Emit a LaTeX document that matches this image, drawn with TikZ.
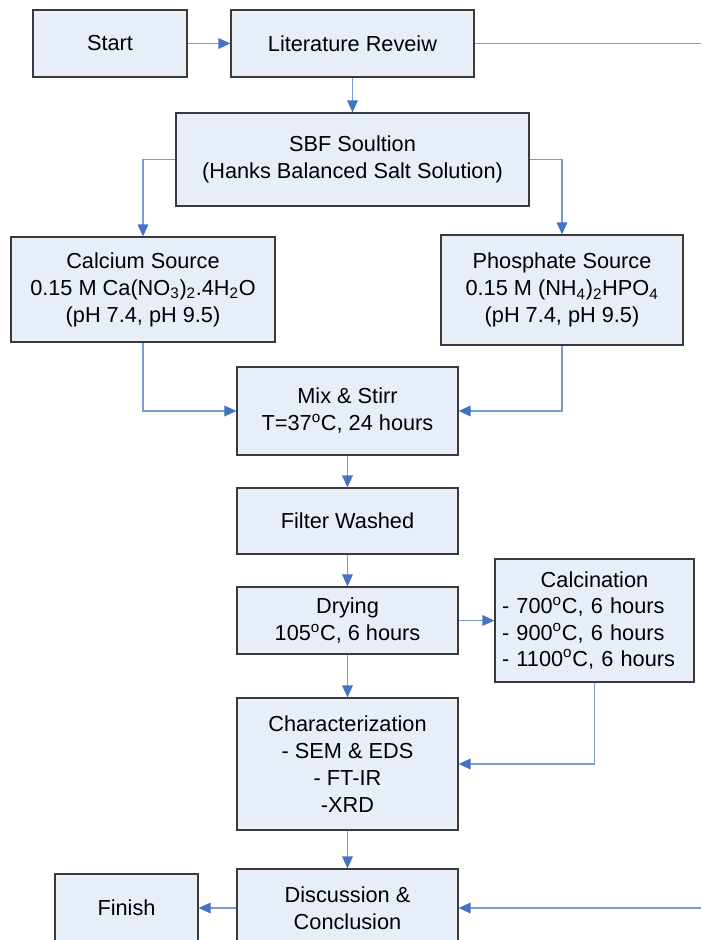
\documentclass[tikz,border=0pt]{standalone}
\usepackage{fontspec}
\setmainfont{Liberation Sans}
\usetikzlibrary{arrows.meta}
\definecolor{boxfill}{HTML}{E8EEF8}
\definecolor{boxline}{HTML}{3A3A3A}
\definecolor{lineblue}{HTML}{7A9CD6}
\definecolor{headblue}{HTML}{4472C4}
\tikzset{
  procbox/.style={draw=boxline, line width=0.9pt, fill=boxfill, align=center,
    inner sep=0pt, font=\fontsize{16.3pt}{20.25pt}\selectfont},
  flow/.style={draw=lineblue, line width=0.9pt,
    -{Triangle[length=9pt,width=8pt,color=headblue,fill=headblue]}},
  plainflow/.style={draw=lineblue, line width=0.9pt}
}
\begin{document}
\begin{tikzpicture}[x=0.75pt,y=-0.75pt]
\useasboundingbox (0,0) rectangle (701,940);
\node[procbox, minimum width=154*0.75pt, minimum height=67*0.75pt] (start) at (110,43.5) {Start};
\node[procbox, minimum width=243*0.75pt, minimum height=67*0.75pt] (lit) at (352.5,43.5) {Literature Reveiw};
\node[procbox, minimum width=353*0.75pt, minimum height=93*0.75pt] (sbf) at (352.5,159.5) {SBF Soultion\\(Hanks Balanced Salt Solution)};
\node[procbox, minimum width=264*0.75pt, minimum height=105*0.75pt] (ca) at (143,289.5) {Calcium Source\\0.15 M Ca(NO\textsubscript{3})\textsubscript{2}.4H\textsubscript{2}O\\(pH 7.4, pH 9.5)};
\node[procbox, minimum width=242*0.75pt, minimum height=110*0.75pt] (ph) at (562,290) {Phosphate Source\\0.15 M (NH\textsubscript{4})\textsubscript{2}HPO\textsubscript{4}\\(pH 7.4, pH 9.5)};
\node[procbox, minimum width=221*0.75pt, minimum height=88*0.75pt] (mix) at (347.5,411) {Mix \& Stirr\\T=37\textsuperscript{o}C, 24 hours};
\node[procbox, minimum width=221*0.75pt, minimum height=66*0.75pt] (filter) at (347.5,521) {Filter Washed};
\node[procbox, minimum width=221*0.75pt, minimum height=67*0.75pt] (dry) at (347.5,620.5) {Drying\\105\textsuperscript{o}C, 6 hours};
\node[procbox, minimum width=199*0.75pt, minimum height=123*0.75pt, text width=185*0.75pt, align=left,
  font=\fontsize{16.3pt}{19.6pt}\selectfont] (calc) at (594.5,620.5)
  {\centerline{Calcination}\par\noindent - 700\textsuperscript{o}C, 6 hours\\- 900\textsuperscript{o}C, 6 hours\\- 1100\textsuperscript{o}C, 6 hours};
\node[procbox, minimum width=221*0.75pt, minimum height=132*0.75pt] (char) at (347.5,764) {Characterization\\- SEM \& EDS\\- FT-IR\\-XRD};
\node[procbox, minimum width=221*0.75pt, minimum height=78*0.75pt] (disc) at (347.5,908) {Discussion \&\\Conclusion};
\node[procbox, minimum width=143*0.75pt, minimum height=68*0.75pt] (finish) at (126.5,908) {Finish};
\coordinate (topright) at (701,43.5);
\coordinate (botright) at (701,908);

\draw[flow] (start) -- (lit);
\draw[plainflow] (lit.east) -- (topright);
\draw[flow] (lit) -- (sbf);
\draw[flow] (sbf.west) -| (ca.north);
\draw[flow] (sbf.east) -| (ph.north);
\draw[flow] (ca.south) |- (mix.west);
\draw[flow] (ph.south) |- (mix.east);
\draw[flow] (mix) -- (filter);
\draw[flow] (filter) -- (dry);
\draw[flow] (dry.east) -- (calc.west);
\draw[flow] (dry) -- (char);
\draw[flow] (calc.south) |- (char.east);
\draw[flow] (char) -- (disc);
\draw[flow] (disc.west) -- (finish.east);
\draw[flow] (botright) -- (disc.east);
\end{tikzpicture}
\end{document}
